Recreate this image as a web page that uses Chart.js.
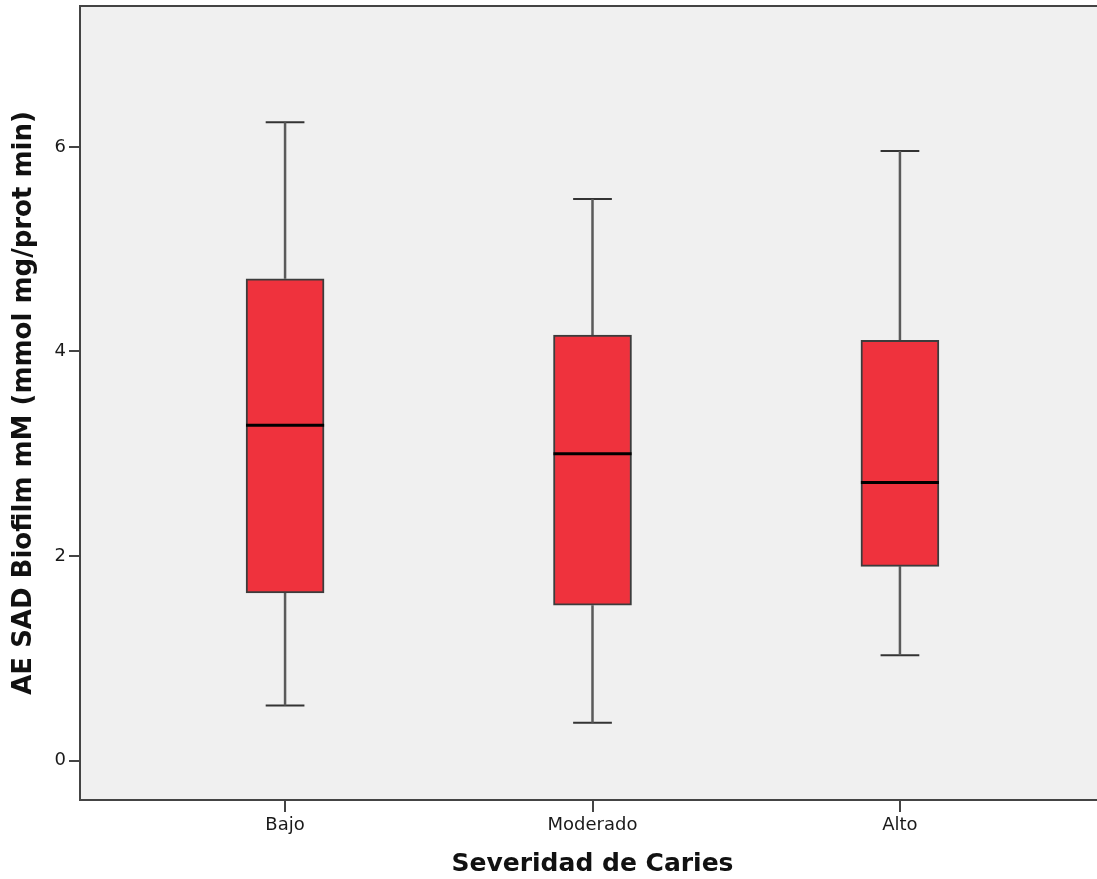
<!DOCTYPE html>
<html>
<head>
<meta charset="utf-8">
<script src="https://cdn.jsdelivr.net/npm/chart.js@4/dist/chart.umd.min.js"></script>
<style>
    html, body { margin: 0; padding: 0; background: #fff; overflow: hidden; }
    #wrap { position: relative; width: 1105px; height: 879px; }
</style>
</head>
<body>
<div id="wrap"><canvas id="boxChart"></canvas></div>
<script>
// Data
const categories = ['Bajo', 'Moderado', 'Alto'];
const whiskerLow = [0.54, 0.37, 1.03];
const quartile1 = [1.64, 1.52, 1.90];
const medians = [3.28, 3.00, 2.72];
const quartile3 = [4.71, 4.16, 4.11];
const whiskerHigh = [6.24, 5.49, 5.96];
const yTicks = [0, 2, 4, 6];

// half widths in category units
const BOX_HALF = 0.127;
const CAP_HALF = 0.063;

function segments(build) {
    const pts = [];
    categories.forEach((c, i) => {
        build(i).forEach(seg => {
            pts.push(seg[0], seg[1], { x: i, y: null });
        });
    });
    return pts;
}

const stems = segments(i => [
    [{ x: i, y: quartile3[i] }, { x: i, y: whiskerHigh[i] }],
    [{ x: i, y: whiskerLow[i] }, { x: i, y: quartile1[i] }]
]);
const caps = segments(i => [
    [{ x: i - CAP_HALF, y: whiskerHigh[i] }, { x: i + CAP_HALF, y: whiskerHigh[i] }],
    [{ x: i - CAP_HALF, y: whiskerLow[i] }, { x: i + CAP_HALF, y: whiskerLow[i] }]
]);
const medianLines = segments(i => [
    [{ x: i - BOX_HALF, y: medians[i] }, { x: i + BOX_HALF, y: medians[i] }]
]);

// plot background + top frame line
const plotFrame = {
    id: 'plotFrame',
    beforeDraw(chart) {
        const { ctx, chartArea: a } = chart;
        ctx.save();
        ctx.fillStyle = '#f0f0f0';
        ctx.fillRect(a.left, a.top, a.right - a.left, a.bottom - a.top);
        ctx.strokeStyle = '#444';
        ctx.lineWidth = 2;
        ctx.beginPath();
        ctx.moveTo(a.left, a.top);
        ctx.lineTo(a.right, a.top);
        ctx.stroke();
        ctx.restore();
    }
};

const ctx = document.getElementById('boxChart').getContext('2d');
new Chart(ctx, {
    type: 'bar',
    data: {
        datasets: [
            {
                type: 'line',
                data: medianLines,
                borderColor: '#000',
                borderWidth: 3,
                pointRadius: 0,
                spanGaps: false,
                order: 0
            },
            {
                type: 'bar',
                data: categories.map((c, i) => ({ x: i, y: [quartile1[i], quartile3[i]] })),
                backgroundColor: '#ef323d',
                borderColor: '#3c3c3c',
                borderWidth: 2,
                borderSkipped: false,
                barThickness: 78,
                order: 1
            },
            {
                type: 'line',
                data: stems,
                borderColor: '#5a5a5a',
                borderWidth: 2.5,
                pointRadius: 0,
                spanGaps: false,
                order: 2
            },
            {
                type: 'line',
                data: caps,
                borderColor: '#333',
                borderWidth: 2,
                pointRadius: 0,
                spanGaps: false,
                order: 2
            }
        ]
    },
    options: {
        responsive: true,
        maintainAspectRatio: false,
        animation: false,
        layout: { padding: { top: 6, right: 0, bottom: 0, left: 0 } },
        plugins: {
            legend: { display: false },
            tooltip: { enabled: false }
        },
        scales: {
            x: {
                type: 'linear',
                offset: false,
                min: -0.667,
                max: 2.667,
                afterFit: s => { s.height = 79; s.paddingLeft = 0; s.paddingRight = 0; },
                afterBuildTicks: s => { s.ticks = categories.map((c, i) => ({ value: i })); },
                grid: { offset: false, drawOnChartArea: false, drawTicks: true, tickLength: 12, tickColor: '#444', lineWidth: 2 },
                border: { display: true, color: '#444', width: 2 },
                ticks: {
                    autoSkip: false,
                    maxRotation: 0,
                    padding: 3,
                    color: '#1a1a1a',
                    font: { family: 'DejaVu Sans', size: 18 },
                    callback: v => categories[v]
                },
                title: {
                    display: true,
                    text: 'Severidad de Caries',
                    color: '#111',
                    font: { family: 'DejaVu Sans', size: 25, weight: 'bold' },
                    padding: { top: 0, bottom: 0 }
                }
            },
            y: {
                min: -0.384,
                max: 7.377,
                afterFit: s => { s.width = 80; s.paddingTop = 0; s.paddingBottom = 0; },
                afterBuildTicks: s => { s.ticks = yTicks.map(v => ({ value: v })); },
                grid: { drawOnChartArea: false, drawTicks: true, tickLength: 11, tickColor: '#444', lineWidth: 2 },
                border: { display: true, color: '#444', width: 2 },
                ticks: {
                    padding: 3,
                    color: '#1a1a1a',
                    font: { family: 'DejaVu Sans', size: 18 }
                },
                title: {
                    display: true,
                    text: 'AE SAD Biofilm mM (mmol mg/prot min)',
                    color: '#111',
                    font: { family: 'DejaVu Sans', size: 26, weight: 'bold' },
                    padding: { top: 9, bottom: 0 }
                }
            }
        }
    },
    plugins: [plotFrame]
});
</script>
</body>
</html>
